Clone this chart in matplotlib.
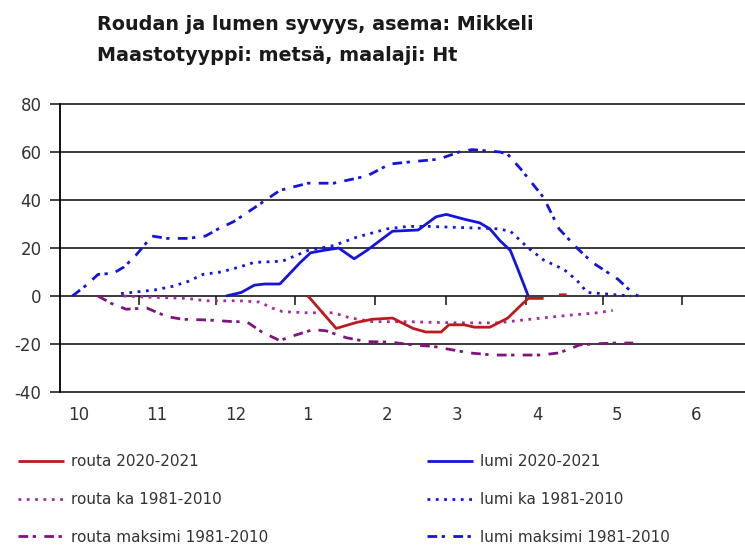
import matplotlib
matplotlib.use("Agg")
import matplotlib.pyplot as plt
import numpy as np

# ---------------- data ----------------
title_lines = ["Roudan ja lumen syvyys, asema: Mikkeli",
               "Maastotyyppi: metsä, maalaji: Ht"]
month_labels = ["10", "11", "12", "1", "2", "3", "4", "5", "6"]
month_lengths = [31, 30, 31, 31, 28, 31, 30, 31, 30]   # Oct .. Jun
y_ticks = [-40, -20, 0, 20, 40, 60, 80]

# x values are days since 1 October 2020
routa_days = [97, 108, 116, 122, 130, 138, 143, 149, 152, 158, 162, 168, 175, 180, 183, 189, 190, 195, 198]
routa_vals = [0, -13.5, -11, -9.7, -9.2, -13.5, -15, -15, -12, -12, -13, -13, -9.2, -4, -1, -1, np.nan, 0.5, 0.5]

lumi_days = [65, 71, 76, 80, 86, 94, 98, 103, 109, 115, 120, 125, 130, 140, 147, 151, 158, 164, 168, 172, 176, 179, 183]
lumi_vals = [0, 1.5, 4.5, 5, 5, 14, 18, 19, 20, 15.5, 19, 23, 27, 27.5, 33, 34, 32, 30.5, 28, 23, 19, 11, 0]

routa_ka_days = [25, 35, 50, 57, 70, 78, 83, 87, 97, 107, 113, 122, 136, 146, 158, 171, 181, 190, 199, 210, 216]
routa_ka_vals = [0, -0.5, -1, -2, -2, -2.5, -5, -6.5, -7, -7, -9, -10.7, -10.7, -11, -11.2, -11.2, -10, -9, -8, -7, -6]

lumi_ka_days = [24, 37, 44, 50, 56, 63, 70, 76, 87, 97, 107, 116, 128, 136, 144, 171, 176, 183, 189, 197, 202, 206, 223]
lumi_ka_vals = [1, 2.5, 4, 6, 9, 10, 12, 14, 14.5, 19, 21, 24.5, 28, 29, 29, 28, 27, 20, 15, 11, 6.5, 1.5, 0]

routa_max_days = [15, 20, 26, 34, 42, 48, 58, 68, 73, 79, 86, 90, 99, 104, 112, 120, 129, 138, 146, 151, 160,
                  169, 179, 188, 195, 200, 203, 208, 216, 224]
routa_max_vals = [0, -3, -5.5, -5, -8.6, -9.7, -10, -10.7, -10.7, -15, -18.6, -17, -14, -14.5, -17.4, -19, -19.2,
                  -20.4, -21, -22, -23.7, -24.6, -24.6, -24.6, -23.7, -21.7, -20.4, -20, -19.6, -19.6]

lumi_max_days = [5, 11, 15, 21, 25, 29, 33, 36, 42, 50, 57, 62, 68, 75, 86, 97, 107, 120, 129, 138, 148, 156,
                 161, 172, 175, 180, 189, 195, 202, 208, 218, 224, 226]
lumi_max_vals = [0, 5, 9, 9.5, 12, 16, 21, 25, 24, 24, 25, 28, 31, 36, 44, 47, 47, 50, 55, 56, 57, 60, 61, 60,
                 59, 53, 41, 28, 20, 14, 7, 1, 0]

labels = ["routa 2020-2021", "lumi 2020-2021", "routa ka 1981-2010", "lumi ka 1981-2010",
          "routa maksimi 1981-2010", "lumi maksimi 1981-2010"]

# ---------------- layout / style ----------------
W, H = 745, 551
fig = plt.figure(figsize=(W / 100, H / 100), dpi=100)
ax_left, ax_right, ax_bottom, ax_top = 59.6, 745, 392, 104
ax = fig.add_axes([ax_left / W, 1 - ax_bottom / H, (ax_right - ax_left) / W, (ax_bottom - ax_top) / H])

RED = "#BE1A1E"
BLUE = "#1414DC"
PURPLE_KA = "#A42C9C"
PURPLE_MAX = "#82127F"
GRID = "#3A3A3A"
TXT = "#333333"

dotted = (0, (1, 2))
dashdot = (0, (3.5, 1.6, 1.2, 3))

l_routa, = ax.plot(routa_days, routa_vals, color=RED, lw=2, zorder=4, solid_capstyle="butt")
l_lumi, = ax.plot(lumi_days, lumi_vals, color=BLUE, lw=2, zorder=4, solid_capstyle="butt")
l_rka, = ax.plot(routa_ka_days, routa_ka_vals, color=PURPLE_KA, lw=2, linestyle=dotted, zorder=3,
                 dash_capstyle="butt")
l_lka, = ax.plot(lumi_ka_days, lumi_ka_vals, color=BLUE, lw=2, linestyle=dotted, zorder=3, dash_capstyle="butt")
l_rmax, = ax.plot(routa_max_days, routa_max_vals, color=PURPLE_MAX, lw=2, linestyle=dashdot, zorder=3,
                  dash_capstyle="butt")
l_lmax, = ax.plot(lumi_max_days, lumi_max_vals, color=BLUE, lw=2, linestyle=dashdot, zorder=3,
                  dash_capstyle="butt")

x_end = (ax_right - ax_left) / 2.561
ax.set_xlim(0, x_end)
ax.set_ylim(-40, 80)

for s in ["top", "right", "bottom"]:
    ax.spines[s].set_visible(False)
ax.spines["left"].set_color("#111111")
ax.spines["left"].set_linewidth(1.4)

ax.set_yticks(y_ticks)
ax.set_yticklabels([str(v) for v in y_ticks])
ax.tick_params(axis="y", direction="out", length=7, width=1.1, color="#111111", pad=6,
               labelsize=12, labelcolor=TXT)
for v in y_ticks:
    ax.axhline(v, color=GRID, lw=1.4, zorder=1, clip_on=False)

# month boundary tick marks on the zero line
bounds = np.cumsum(month_lengths)[:-1]
ax.vlines(bounds, -3.8, 0, color="#111111", lw=1.1, zorder=2)

# month labels
month_starts = np.concatenate([[0], bounds])
label_offsets = [7.6, 7.0, 7.9, 4.6, 4.8, 4.2, 4.8, 5.7, 5.5]
ax.set_xticks(month_starts + np.array(label_offsets))
ax.set_xticklabels(month_labels)
ax.tick_params(axis="x", length=0, pad=10, labelsize=12, labelcolor=TXT)

# title
fig.text(97 / W, 1 - 30 / H, title_lines[0], fontsize=13.8, fontweight="bold", color="#1A1A1A",
         ha="left", va="baseline")
fig.text(97 / W, 1 - 61 / H, title_lines[1], fontsize=13.8, fontweight="bold", color="#1A1A1A",
         ha="left", va="baseline")

# legends
leg_kw = dict(frameon=False, fontsize=11, handlelength=3.0, handletextpad=0.45, labelspacing=1.5,
              borderpad=0, borderaxespad=0, loc="upper left", labelcolor=TXT)
lg1 = fig.legend([l_routa, l_rka, l_rmax], [labels[0], labels[2], labels[4]],
                 bbox_to_anchor=(18 / W, 1 - 454 / H), **leg_kw)
lg2 = fig.legend([l_lumi, l_lka, l_lmax], [labels[1], labels[3], labels[5]],
                 bbox_to_anchor=(427 / W, 1 - 454 / H), **leg_kw)

fig.savefig("out.png", dpi=100)
